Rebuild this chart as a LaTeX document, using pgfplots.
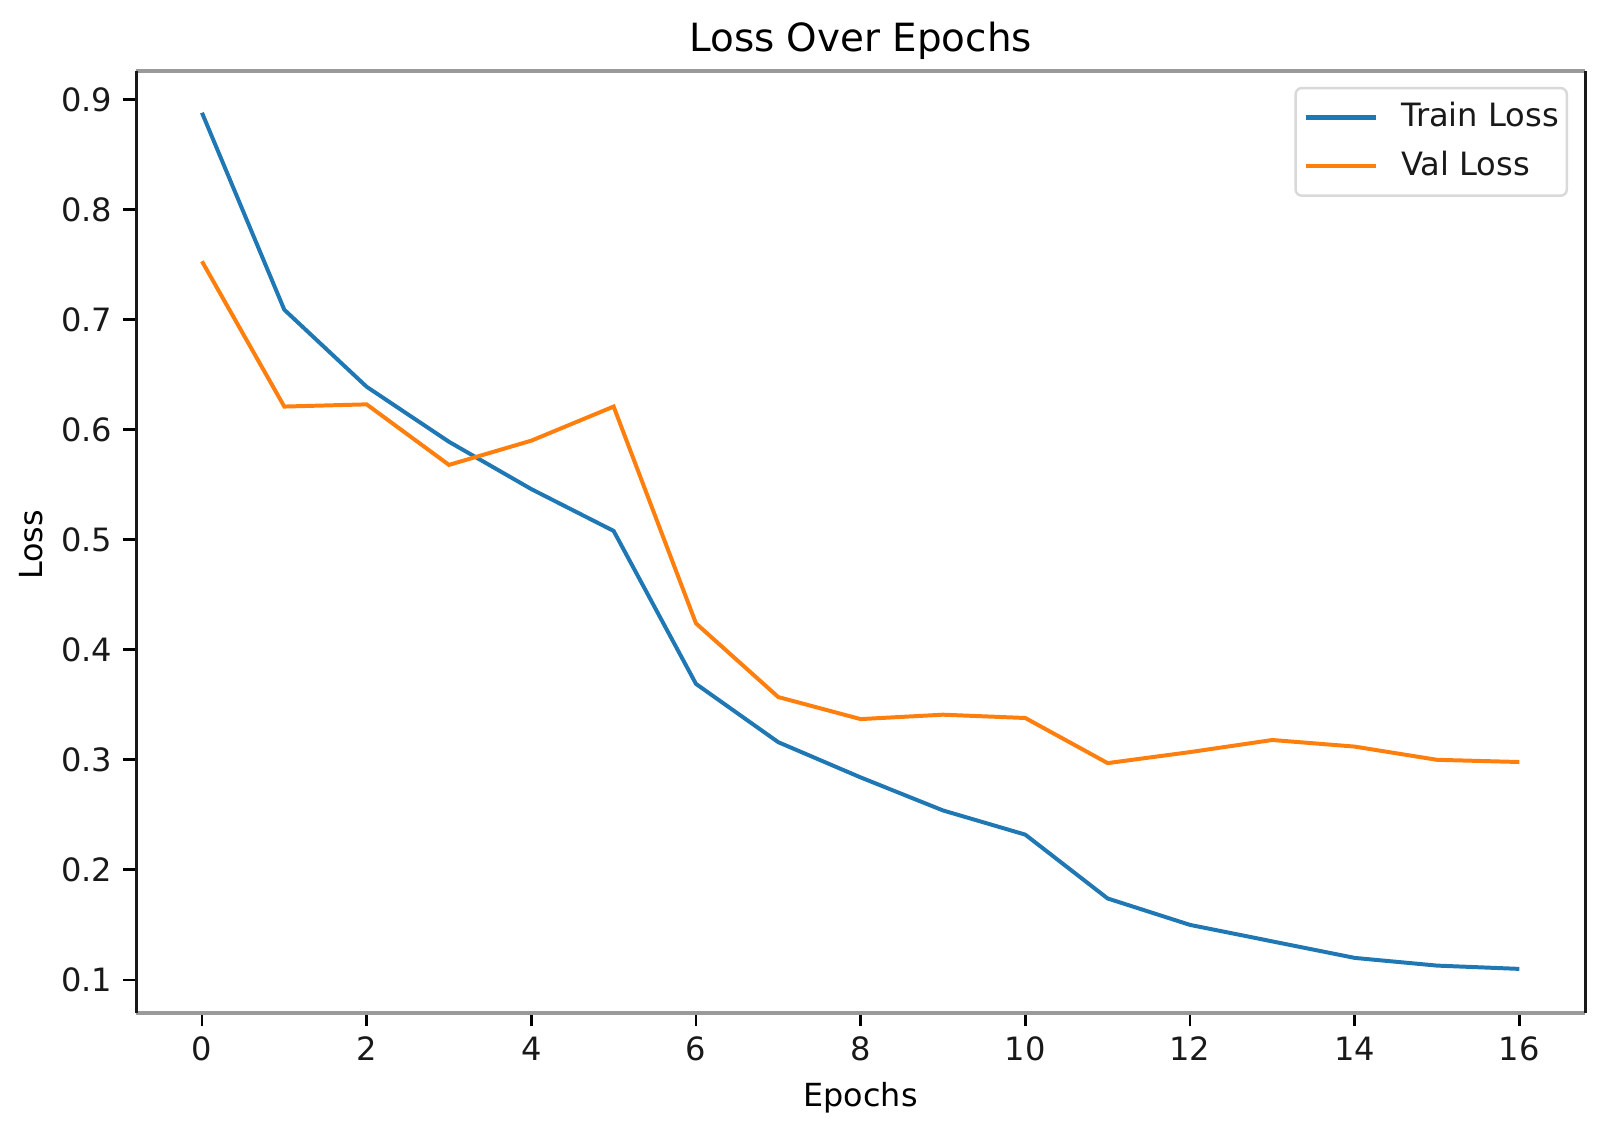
\documentclass[border=0pt]{standalone}
\usepackage{pgfplots}
\pgfplotsset{compat=1.18}
\usepackage{fontspec}
\setmainfont{DejaVu Sans}
\definecolor{mblue}{HTML}{1F77B4}
\definecolor{morange}{HTML}{FF7F0E}
\definecolor{spinegray}{HTML}{9A9A9A}
\begin{document}
\begin{tikzpicture}
\path[use as bounding box] (-44.5pt,-39.6pt) rectangle (481.6pt,331.2pt);
\begin{axis}[
  name=ax,
  scale only axis, width=473.8pt, height=308pt,
  xmin=-0.8, xmax=16.8, ymin=0.070, ymax=0.926,
  xtick={0,2,4,6,8,10,12,14,16},
  ytick={0.1,0.2,0.3,0.4,0.5,0.6,0.7,0.8,0.9},
  yticklabel style={/pgf/number format/.cd, fixed, fixed zerofill, precision=1},
  /pgf/number format/assume math mode=true,
  ticklabel style={font=\fontsize{10.5}{12}\selectfont, text=black!90},
  tick align=outside, tick pos=left,
  major tick length=4.3pt,
  every tick/.style={black, line width=0.9pt},
  separate axis lines,
  x axis line style={spinegray, line width=1.3pt},
  y axis line style={black!90, line width=1.0pt},
  no markers,
  legend style={at={(rel axis cs:1,1)}, anchor=north east, xshift=-5.6pt, yshift=-5.2pt,
    draw=black!15, rounded corners=2pt, line width=0.8pt,
    font=\fontsize{10.5}{12}\selectfont, text=black!90,
    inner xsep=2.6pt, inner ysep=4.6pt, row sep=6pt, column sep=7.5pt,
    nodes={inner sep=0pt, text height=8pt, text depth=2pt, anchor=west}},
  legend cell align=left,
  legend image code/.code={\draw[#1,line width=1.4pt] (0pt,0pt) -- (23pt,0pt);},
]
\addplot[mblue, line width=1.3pt] coordinates {
(0,0.888) (1,0.709) (2,0.639) (3,0.589) (4,0.546) (5,0.508) (6,0.369) (7,0.316)
(8,0.284) (9,0.254) (10,0.232) (11,0.174) (12,0.150) (13,0.135) (14,0.120) (15,0.113) (16,0.110)};
\addlegendentry{Train Loss}
\addplot[morange, line width=1.3pt] coordinates {
(0,0.753) (1,0.621) (2,0.623) (3,0.568) (4,0.590) (5,0.621) (6,0.424) (7,0.357)
(8,0.337) (9,0.341) (10,0.338) (11,0.297) (12,0.307) (13,0.318) (14,0.312) (15,0.300) (16,0.298)};
\addlegendentry{Val Loss}
\end{axis}
\node[anchor=base, font=\fontsize{12.7}{15}\selectfont] at ([yshift=6.2pt]ax.north) {Loss Over Epochs};
\node[anchor=base, font=\fontsize{10.4}{12}\selectfont] at ([yshift=-30.7pt]ax.south) {Epochs};
\node[rotate=90, anchor=base, font=\fontsize{10.4}{12}\selectfont] at ([xshift=-30.7pt,yshift=-1pt]ax.west) {Loss};
\end{tikzpicture}
\end{document}
